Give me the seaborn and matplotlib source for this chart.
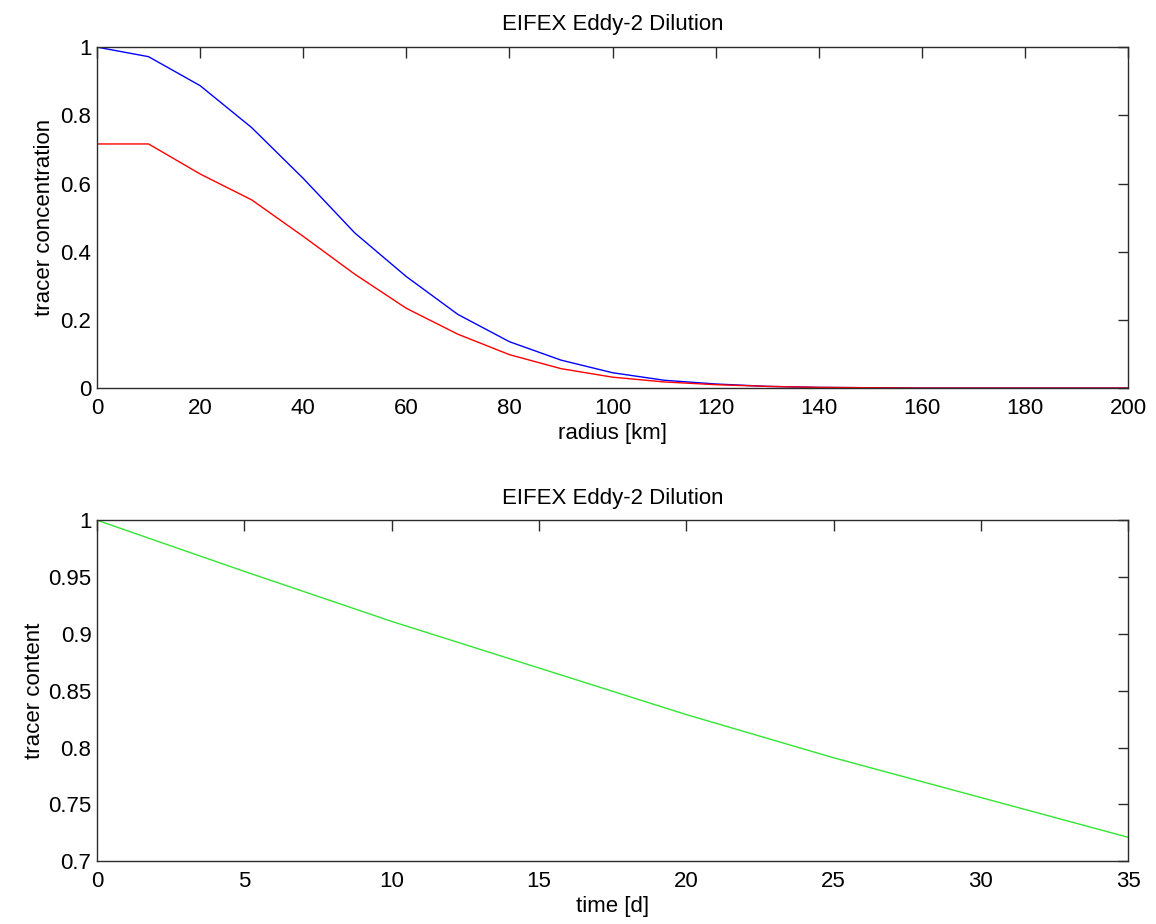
import numpy as np
import pandas as pd
import matplotlib
matplotlib.use("Agg")
import matplotlib.pyplot as plt
from matplotlib.ticker import FuncFormatter
import seaborn as sns

# radial tracer profiles (km, normalised concentration)
radius_km = [0, 10, 20, 30, 40, 50, 60, 70, 80, 90, 100, 110, 120, 130, 140,
             150, 160, 170, 180, 190, 200]
conc_initial = [1.0, 0.972, 0.887, 0.764, 0.615, 0.455, 0.327, 0.216, 0.136,
                0.082, 0.045, 0.023, 0.012, 0.005, 0.002, 0.001, 0.0, 0.0,
                0.0, 0.0, 0.0]
conc_diluted = [0.716, 0.716, 0.628, 0.552, 0.445, 0.334, 0.234, 0.158, 0.098,
                0.057, 0.032, 0.018, 0.010, 0.005, 0.002, 0.001, 0.0, 0.0,
                0.0, 0.0, 0.0]

# tracer content over time (days)
time_d = [0, 5, 10, 15, 20, 25, 30, 35]
content = [1.0, 0.955, 0.911, 0.870, 0.829, 0.791, 0.756, 0.721]

title = "EIFEX Eddy-2 Dilution"
FS = 16

sns.set_theme(style="white")
plt.rcParams["font.family"] = ["Liberation Sans", "DejaVu Sans"]
plt.rcParams.update({
    "font.size": FS,
    "axes.labelsize": FS,
    "axes.titlesize": FS,
    "xtick.labelsize": FS,
    "ytick.labelsize": FS,
    "axes.edgecolor": "#2b2b2b",
    "axes.linewidth": 1.0,
    "xtick.direction": "in",
    "ytick.direction": "in",
    "xtick.top": True,
    "ytick.right": True,
    "xtick.major.size": 8,
    "ytick.major.size": 7.5,
    "xtick.major.width": 1.0,
    "ytick.major.width": 1.0,
    "xtick.color": "#2b2b2b",
    "ytick.color": "#2b2b2b",
    "xtick.labelcolor": "black",
    "ytick.labelcolor": "black",
    "xtick.major.pad": 7,
    "ytick.major.pad": 4,
    "text.color": "black",
    "axes.labelcolor": "black",
})

fig = plt.figure(figsize=(11.56, 9.24), dpi=100)
ax1 = fig.add_axes([0.0839, 0.580, 0.892, 0.369])
ax2 = fig.add_axes([0.0839, 0.068, 0.892, 0.369])

fmt = FuncFormatter(lambda v, _: f"{v:.2f}".rstrip("0").rstrip("."))

prof = pd.DataFrame({"r": radius_km, "a": conc_initial, "b": conc_diluted})
sns.lineplot(data=prof, x="r", y="a", ax=ax1, color=(0, 0, 1), lw=1.0)
sns.lineplot(data=prof, x="r", y="b", ax=ax1, color=(1, 0, 0), lw=1.0)
ax1.set_xlim(0, 200)
ax1.set_ylim(0, 1)
ax1.set_xticks(np.arange(0, 201, 20))
ax1.set_yticks(np.arange(0, 1.01, 0.2))
ax1.yaxis.set_major_formatter(fmt)
ax1.set_xlabel("radius [km]", labelpad=3)
ax1.set_ylabel("tracer concentration", labelpad=4)
ax1.set_title(title, pad=12)

tc = pd.DataFrame({"t": time_d, "c": content})
sns.lineplot(data=tc, x="t", y="c", ax=ax2, color=(0.2, 0.9, 0.2), lw=1.0)
ax2.set_xlim(0, 35)
ax2.set_ylim(0.7, 1)
ax2.set_xticks(np.arange(0, 36, 5))
ax2.set_yticks(np.arange(0.7, 1.001, 0.05))
ax2.yaxis.set_major_formatter(fmt)
ax2.set_xlabel("time [d]", labelpad=3)
ax2.set_ylabel("tracer content", labelpad=2)
ax2.set_title(title, pad=12)

for ax in (ax1, ax2):
    for s in ax.spines.values():
        s.set_visible(True)

fig.savefig("out.png", dpi=100, facecolor="white")
